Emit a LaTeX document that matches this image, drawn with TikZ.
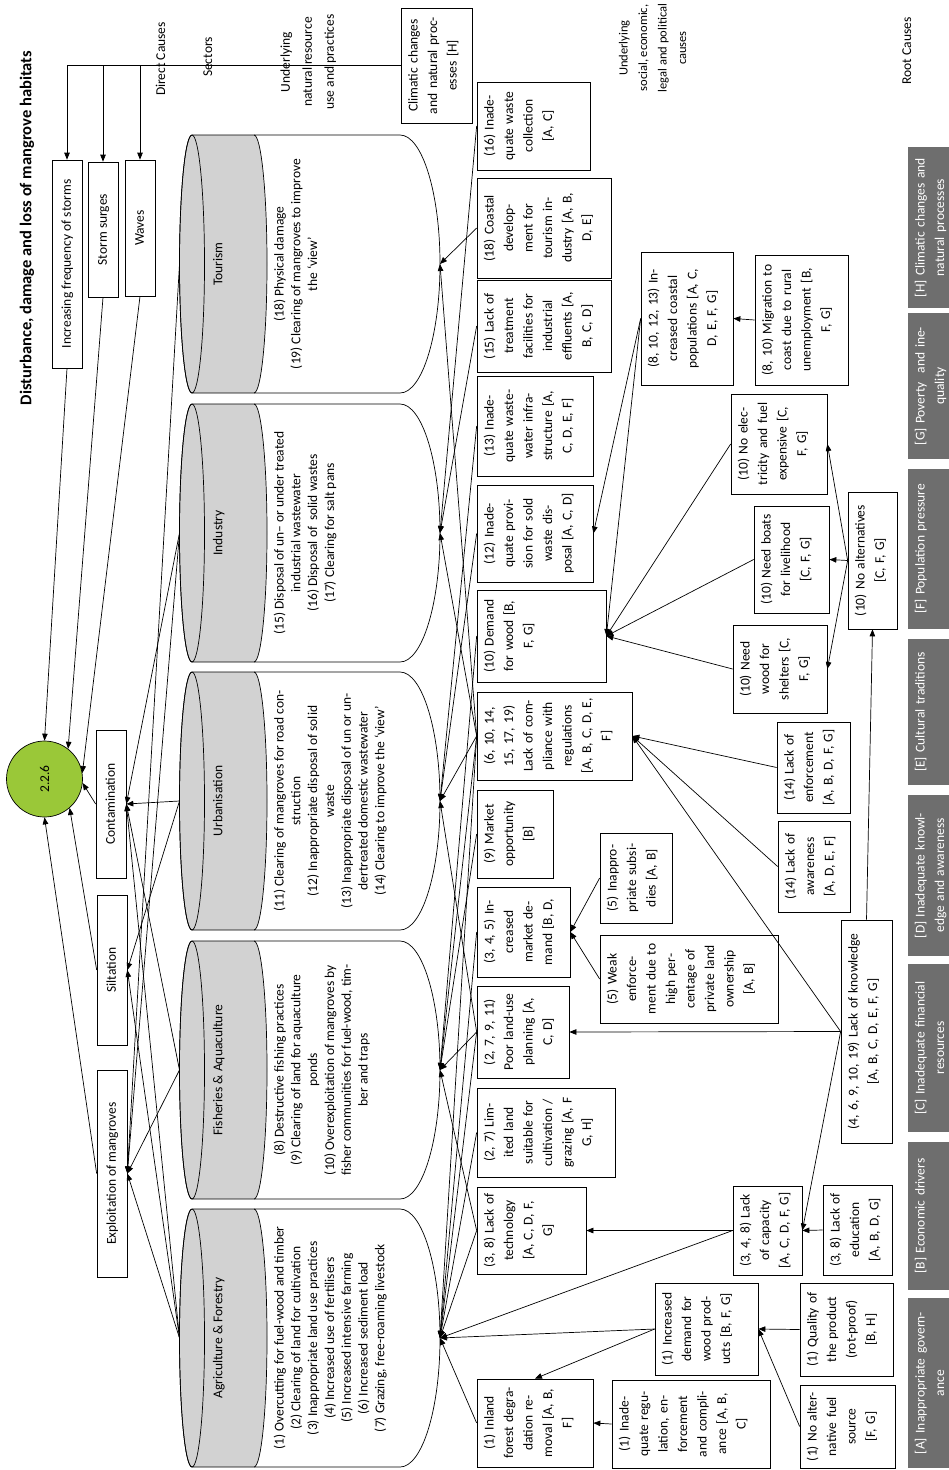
\documentclass[tikz,border=0pt]{standalone}
\usepackage{fontspec}
\setmainfont{Carlito}
\usepackage{graphicx}
\usetikzlibrary{arrows.meta}
\definecolor{cylgray}{RGB}{210,210,210}
\definecolor{rootgray}{RGB}{110,110,110}
\definecolor{circgreen}{RGB}{154,200,56}
\newcommand{\rotlines}[1]{\noindent\rotatebox{90}{\begin{tabular}{@{}c@{}}#1\end{tabular}}}
\newcommand{\cylsec}[1]{%
  \filldraw[fill=cylgray] (192,#1-129) -- (254,#1-129) .. controls (261.2,#1-129) and (267,#1-71.2) .. (267,#1) .. controls (267,#1+71.2) and (261.2,#1+129) .. (254,#1+129) -- (192,#1+129) .. controls (185.1,#1+129) and (179.5,#1+71.2) .. (179.5,#1) .. controls (179.5,#1-71.2) and (185.1,#1-129) .. (192,#1-129) -- cycle;
  \draw (192,#1) ellipse [x radius=12.5, y radius=129];
  \draw (254,#1-129) -- (400,#1-129) .. controls (422.1,#1-129) and (440,#1-71.2) .. (440,#1) .. controls (440,#1+71.2) and (422.1,#1+129) .. (400,#1+129) -- (254,#1+129);
}
\begin{document}
\begin{tikzpicture}[x=1pt,y=-1pt,line width=0.7pt,
  box/.style={draw, inner xsep=3pt, inner ysep=0pt, align=left, font=\fontsize{13.5}{19.5}\selectfont},
  dbox/.style={draw, inner sep=0pt, minimum width=30, font=\fontsize{13.5}{19.5}\selectfont},
  rootbox/.style={fill=rootgray, draw=none, inner xsep=3pt, inner ysep=0pt, align=left, text=white, font=\fontsize{13.5}{19.5}\selectfont, minimum width=42, text width=36},
  arr/.style={-{Triangle[length=7pt,width=5.5pt]}},
  lbl/.style={inner sep=0pt, font=\fontsize{13.5}{20}\selectfont},
  sec/.style={inner sep=0pt, font=\fontsize{13.5}{16.8}\selectfont},
  sectxt/.style={inner sep=0pt, anchor=west, font=\fontsize{13.5}{16.8}\selectfont}]
\useasboundingbox (0,0) rectangle (948,1470);

% ---------- title and level labels
\node[inner sep=0pt, font=\fontsize{16.5}{20}\selectfont\bfseries] (title) at (27,228) {\rotatebox{90}{Disturbance, damage and loss of mangrove habitats}};
\node[lbl] (lDirect) at (161,59) {\rotlines{Direct Causes}};
\node[lbl] (lSect) at (208,57) {\rotlines{Sectors}};
\node[lbl, font=\fontsize{13.5}{22}\selectfont] (lNat) at (307.5,62) {\rotlines{Underlying\\natural resource\\use and practices}};
\node[lbl, font=\fontsize{12.5}{19.5}\selectfont] (lSoc) at (653,48) {\rotlines{Underlying\\social, economic,\\legal and political\\causes}};
\node[lbl] (lRoot) at (907,51) {\rotlines{Root Causes}};

% ---------- sectors
\cylsec{264}
\cylsec{533}
\cylsec{801}
\cylsec{1070}
\cylsec{1338}
\foreach \n/\m in {T/264,I/533,U/801,F/1070,A/1338}{
  \coordinate (tip\n) at (440,\m);
  \coordinate (l\n) at (179.5,\m);
}
\node[sec] (sT) at (219,264) {\rotlines{Tourism}};
\node[sec] (sI) at (219,533) {\rotlines{Industry}};
\node[sec] (sU) at (219,801) {\rotlines{Urbanisation}};
\node[sec] (sF) at (219,1070) {\rotlines{Fisheries \& Aquaculture}};
\node[sec] (sA) at (219,1338) {\rotlines{Agriculture \& Forestry}};
\node[sectxt] (dT) at (271.5,264) {\rotlines{(18) Physical damage\\(19) Clearing of mangroves to improve\\the `view'}};
\node[sectxt] (dI) at (271.5,533) {\rotlines{(15) Disposal of un-- or under treated\\industrial wastewater\\(16) Disposal of~ solid wastes\\(17) Clearing for salt pans}};
\node[sectxt] (dU) at (271.5,801) {\rotlines{(11) Clearing of mangroves for road con-\\struction\\(12) Inappropriate disposal of solid\\waste\\(13) Inappropriate disposal of un or un-\\dertreated domestic wastewater\\(14) Clearing to improve the `view'}};
\node[sectxt] (dF) at (271.5,1070) {\rotlines{(8) Destructive fishing practices\\(9) Clearing of land for aquaculture\\ponds\\(10) Overexploitation of mangroves by\\fisher communities for fuel-wood, tim-\\ber and traps}};
\node[sectxt] (dA) at (271.5,1338) {\rotlines{(1) Overcutting for fuel-wood and timber\\(2) Clearing of land for cultivation\\(3) Inappropriate land use practices\\(4) Increased use of fertilisers\\(5) Increased intensive farming\\(6) Increased sediment load\\(7) Grazing, free-roaming livestock}};

% ---------- impact and direct causes
\node[circle, draw, fill=circgreen, minimum size=76, inner sep=0pt, font=\fontsize{13.5}{16}\selectfont] (circ) at (44.5,779) {\rotatebox{90}{2.2.6}};
\node[dbox, minimum height=208] (storms) at (67,264) {\rotlines{Increasing frequency of storms}};
\node[dbox, minimum height=135] (surges) at (103,229.5) {\rotlines{Storm surges}};
\node[dbox, minimum height=136] (waves) at (140,228) {\rotlines{Waves}};
\node[dbox, minimum height=148] (contam) at (111,804) {\rotlines{Contamination}};
\node[dbox, minimum height=150] (silt) at (112,970) {\rotlines{Siltation}};
\node[dbox, minimum height=207] (exploit) at (112,1173.5) {\rotlines{Exploitation of mangroves}};

% ---------- underlying causes
\node[box, text width=65, minimum height=115] (climatic) at (436.5,65.5) {\rotlines{Climatic changes\\and natural proc-\\esses [H]}};
\node[box, text width=107, minimum height=88] (b16) at (533.5,126) {\rotlines{(16) Inade-\\quate waste\\collection\\{}[A, C]}};
\node[box, text width=128, minimum height=100] (b18) at (544,228) {\rotlines{(18) Coastal\\develop-\\ment for\\tourism in-\\dustry [A, B,\\D, E]}};
\node[box, text width=128, minimum height=92] (b15) at (544,326) {\rotlines{(15) Lack of\\treatment\\facilities for\\industrial\\effluents [A,\\B, C, D]}};
\node[box, text width=110, minimum height=100] (b13) at (535,426) {\rotlines{(13) Inade-\\quate waste-\\water infra-\\structure [A,\\C, D, E, F]}};
\node[box, text width=110, minimum height=97] (b12) at (535,533.5) {\rotlines{(12) Inade-\\quate provi-\\sion for sold\\waste dis-\\posal [A, C, D]}};
\node[box, text width=123, minimum height=92] (demand) at (541.5,636) {\rotlines{(10) Demand\\for wood [B,\\F, G]}};
\node[box, text width=149, minimum height=88] (compl) at (554.5,736) {\rotlines{(6, 10, 14,\\15, 17, 19)\\Lack of com-\\pliance with\\regulations\\{}[A, B, C, D, E,\\F]}};
\node[box, text width=70, minimum height=88] (market) at (515,834) {\rotlines{(9) Market\\opportunity\\{}[B]}};
\node[box, text width=87, minimum height=90] (mdemand) at (523.5,932) {\rotlines{(3, 4, 5) In-\\creased\\market de-\\mand [B, D,}};
\node[box, text width=86, minimum height=92] (landuse) at (523,1032) {\rotlines{(2, 7, 9, 11)\\Poor land-use\\planning [A,\\C, D]}};
\node[box, text width=132, minimum height=89] (limited) at (546,1132.5) {\rotlines{(2, 7) Lim-\\ited land\\suitable for\\cultivation /\\grazing [A, F\\G, H]}};
\node[box, text width=103, minimum height=87] (tech) at (531.5,1230.5) {\rotlines{(3, 8) Lack of\\technology\\{}[A, C, D, F,\\G]}};
\node[box, text width=110, minimum height=88] (inland) at (535,1423) {\rotlines{(1) Inland\\forest degra-\\dation re-\\moval [A, B,\\F]}};
\node[box, text width=152, minimum height=88] (inadreg) at (691,1424) {\rotlines{(1) Inade-\\quate regu-\\lation, en-\\forcement\\and compli-\\ance [A, B,\\C]}};
\node[box, text width=97, minimum height=92] (wooddem) at (706.5,1329) {\rotlines{(1) Increased\\demand for\\wood prod-\\ucts [B, F, G]}};
\node[box, text width=87, minimum height=93] (quality) at (846.5,1329.5) {\rotlines{(1) Quality of\\the product\\(rot-proof)\\{}[B, H]}};
\node[box, text width=89, minimum height=83] (nofuel) at (847.5,1426.5) {\rotlines{(1) No alter-\\native fuel\\source\\{}[F, G]}};
\node[box, text width=63, minimum height=89] (capacity) at (767.5,1230.5) {\rotlines{(3, 4, 8) Lack\\of capacity\\{}[A, C, D, F, G]}};
\node[box, text width=63, minimum height=90] (educ) at (857.5,1230) {\rotlines{(3, 8) Lack of\\education\\{}[A, B, D, G]}};
\node[box, text width=45, minimum height=223] (knowl) at (866.5,1031.5) {\rotlines{(4, 6, 9, 10, 19) Lack of knowledge\\{}[A, B, C, D, E, F, G]}};
\node[box, text width=66, minimum height=90] (subsid) at (636,878) {\rotlines{(5) Inappro-\\priate subsi-\\dies [A, B]}};
\node[box, text width=172, minimum height=88] (weak) at (689,979) {\rotlines{(5) Weak\\enforce-\\ment due to\\high per-\\centage of\\private land\\ownership\\{}[A, B]}};
\node[box, text width=66, minimum height=91] (aware) at (814,866.5) {\rotlines{(14) Lack of\\awareness\\{}[A, D, E, F]}};
\node[box, text width=67, minimum height=91] (enforce) at (813.5,767.5) {\rotlines{(14) Lack of\\enforcement\\{}[A, B, D, F, G]}};
\node[box, text width=88, minimum height=88] (shelter) at (780,669) {\rotlines{(10) Need\\wood for\\shelters [C,\\F, G]}};
\node[box, text width=69, minimum height=107] (boats) at (791.5,559.5) {\rotlines{(10) Need boats\\for livelihood\\{}[C, F, G]}};
\node[box, text width=90, minimum height=100] (elec) at (779,444) {\rotlines{(10) No elec-\\tricity and fuel\\expensive [C,\\F, G]}};
\node[box, text width=43, minimum height=137] (noalt) at (872.5,560.5) {\rotlines{(10) No alternatives\\{}[C, F, G]}};
\node[box, text width=86, minimum height=133] (coastal) at (687,318.5) {\rotlines{(8, 10, 12, 13) In-\\creased coastal\\populations [A, C,\\D, E, F, G]}};
\node[box, text width=87, minimum height=130] (migr) at (801.5,320) {\rotlines{(8, 10) Migration to\\coast due to rural\\unemployment [B,\\F, G]}};

% ---------- root causes
\node[rootbox, minimum height=161] (rH) at (929,227.5) {\rotlines{[H] Climatic changes and\\natural processes}};
\node[rootbox, minimum height=146] (rG) at (929,386) {\rotlines{[G] Poverty~ and ine-\\quality}};
\node[rootbox, minimum height=160] (rF) at (929,549) {\rotlines{[F] Population pressure}};
\node[rootbox, minimum height=146] (rE) at (929,712) {\rotlines{[E] Cultural traditions}};
\node[rootbox, minimum height=161] (rD) at (929,875.5) {\rotlines{[D] Inadequate knowl-\\edge and awareness}};
\node[rootbox, minimum height=168] (rC) at (929,1048) {\rotlines{[C] Inadequate financial\\resources}};
\node[rootbox, minimum height=148] (rB) at (929,1216) {\rotlines{[B] Economic drivers}};
\node[rootbox, minimum height=170] (rA) at (929,1383) {\rotlines{[A] Inappropriate govern-\\ance}};

% ---------- connectors: climatic to direct causes
\draw[arr] (climatic.west) -- (storms.north |- climatic.west) -- (storms.north);
\draw[arr] (surges.north |- climatic.west) -- (surges.north);
\draw[arr] (waves.north |- climatic.west) -- (waves.north);
% direct causes to impact
\draw[arr] (storms.south) -- (circ.north);
\draw[arr] (surges.south) -- (circ.52);
\draw[arr] (waves.south) -- (circ.9);
\draw[arr] (contam.west) -- (circ.-6);
\draw[arr] (silt.west) -- (circ.-49);
\draw[arr] (exploit.west) -- (circ.south);
% sectors to direct causes
\draw[arr] (lT) -- (exploit.east);
\draw[arr] (lI) -- (contam.east);
\draw[arr] (lI) -- (exploit.east);
\draw[arr] (lU) -- (contam.east);
\draw[arr] (lU) -- (silt.east);
\draw[arr] (lF) -- (contam.east);
\draw[arr] (lF) -- (exploit.east);
\draw[arr] (lA) -- (contam.east);
\draw[arr] (lA) -- (silt.east);
\draw[arr] (lA) -- (exploit.east);
% underlying causes to sectors
\draw[arr] (b18.west) -- (tipT);
\foreach \t in {tipT,tipI,tipU,tipF,tipA} {\draw[arr] (compl.west) -- (\t);}
\draw[arr] (b16.west) -- (tipI);
\draw[arr] (b15.west) -- (tipI);
\draw[arr] (b13.west) -- (tipU);
\draw[arr] (b12.west) -- (tipU);
\draw[arr] (demand.west) -- (tipF);
\draw[arr] (market.west) -- (tipF);
\draw[arr] (mdemand.west) -- (tipA);
\foreach \t in {tipU,tipF,tipA} {\draw[arr] (landuse.west) -- (\t);}
\draw[arr] (limited.west) -- (tipA);
\draw[arr] (tech.west) -- (tipA);
\draw[arr] (tech.west) -- (tipF);
\draw[arr] (inland.west) -- (tipA);
\draw[arr] (capacity.west) -- (tipA);
\draw[arr] (wooddem.west) -- (tipA);
% among causes
\draw[arr] (capacity.west) -- (tech.east);
\draw[arr] (wooddem.west) -- (inland.north);
\draw[arr] (inadreg.west) -- (inland.east);
\draw[arr] (quality.west) -- (wooddem.east);
\draw[arr] (nofuel.west) -- (wooddem.east);
\draw[arr] (educ.west) -- (capacity.east);
\draw[arr] (knowl.west) -- (capacity.east);
\draw[arr] (knowl.west) -- (landuse.east);
\draw[arr] (knowl.west) -- (compl.east);
\draw[arr] (aware.west) -- (compl.east);
\draw[arr] (enforce.west) -- (compl.east);
\draw[arr] (knowl.north) -- (noalt.south);
\draw[arr] (subsid.west) -- (mdemand.east);
\draw[arr] (weak.west) -- (mdemand.east);
\draw[arr] (elec.west) -- (demand.east);
\draw[arr] (boats.west) -- (demand.east);
\draw[arr] (shelter.west) -- (demand.east);
\draw[arr] (noalt.west) -- (elec.east);
\draw[arr] (noalt.west) -- (boats.east);
\draw[arr] (noalt.west) -- (shelter.east);
\draw[arr] (migr.west) -- (coastal.east);
\draw[arr] (coastal.west) -- (b12.east);
\draw[arr] (coastal.west) -- (demand.east);
\end{tikzpicture}
\end{document}
